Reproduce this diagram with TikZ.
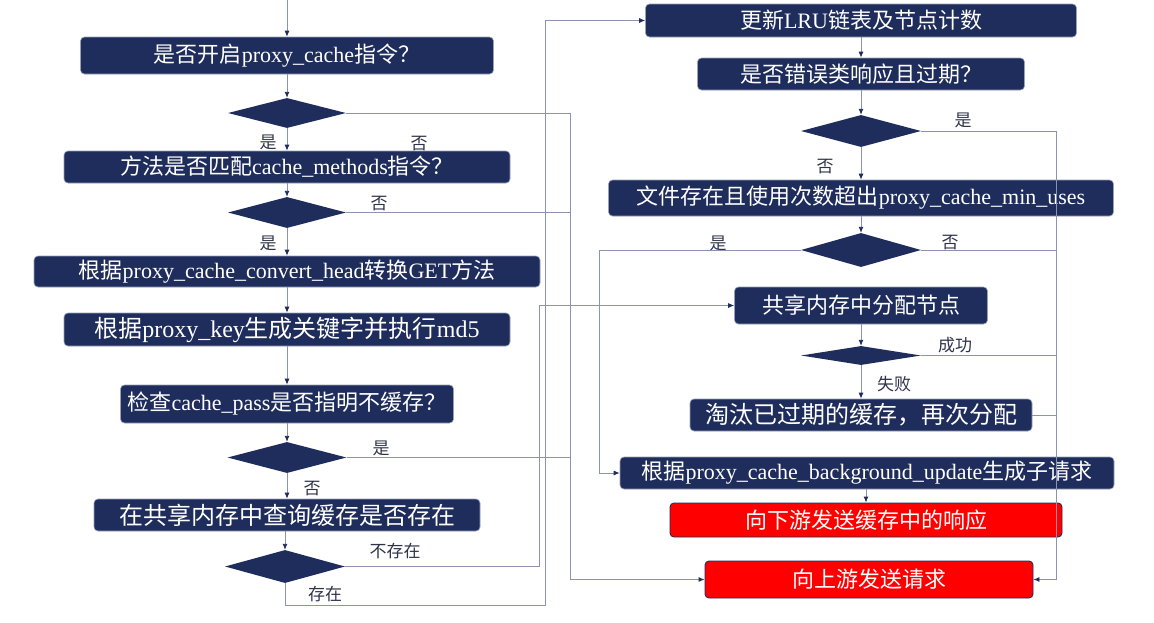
\documentclass[tikz,border=0pt]{standalone}
\usepackage{fontspec}
\setmainfont{Liberation Serif}
\newfontfamily\cjkfont{Noto Sans CJK SC}
\newcommand{\zhs}[1]{{\cjkfont #1}}
\usetikzlibrary{shapes.geometric,arrows.meta}
\definecolor{navy}{HTML}{1F2D5C}
\definecolor{boxedge}{HTML}{9AA0B8}
\definecolor{wire}{HTML}{8C93AE}
\definecolor{lbl}{HTML}{2E3448}
\tikzset{
  box/.style={draw=boxedge, line width=0.6pt, fill=navy, rounded corners=4pt,
    text=white, inner sep=0pt, font=\fontsize{22}{24}\selectfont},
  bigbox/.style={box, font=\fontsize{24}{26}\selectfont},
  alert/.style={box, fill=red, draw=navy, line width=0.9pt},
  dia/.style={diamond, fill=navy, draw=none, inner sep=0pt},
  wire/.style={draw=wire, line width=0.9pt},
  arr/.style={wire, -{Latex[length=6pt,width=5pt,color=navy]}},
  lab/.style={text=lbl, font=\fontsize{17}{19}\selectfont\cjkfont, inner sep=0pt},
}
\begin{document}
\begin{tikzpicture}[x=1pt,y=-1pt]
\useasboundingbox (0,0) rectangle (1154,622);

% left column: request checks
\node[box, minimum width=413pt, minimum height=37pt] (b1) at (287,55.5) {\zhs{是否开启}proxy\_cache\zhs{指令？}};
\node[dia, minimum width=118pt, minimum height=30pt] (d1) at (287,113) {};
\node[box, minimum width=446pt, minimum height=32pt] (b2) at (287,167) {\zhs{方法是否匹配}cache\_methods\zhs{指令？}};
\node[dia, minimum width=118pt, minimum height=31pt] (d2) at (287,212.5) {};
\node[box, minimum width=506pt, minimum height=31pt] (b3) at (287,271.5) {\zhs{根据}proxy\_cache\_convert\_head\zhs{转换}GET\zhs{方法}};
\node[bigbox, minimum width=446pt, minimum height=33pt] (b4) at (287,329.5) {\zhs{根据}proxy\_key\zhs{生成关键字并执行}md5};
\node[box, minimum width=333pt, minimum height=38pt] (b5) at (287,404) {\zhs{检查}cache\_pass\zhs{是否指明不缓存？}};
\node[dia, minimum width=119pt, minimum height=31pt] (d3) at (287,457.5) {};
\node[bigbox, minimum width=386pt, minimum height=32pt] (b6) at (287,515) {\zhs{在共享内存中查询缓存是否存在}};
\node[dia, minimum width=120pt, minimum height=33pt] (d4) at (285,566.5) {};

% right column: cache handling
\node[box, minimum width=431pt, minimum height=33pt] (r1) at (861,20.5) {\zhs{更新}LRU\zhs{链表及节点计数}};
\node[box, minimum width=327pt, minimum height=32pt] (r2) at (861,74) {\zhs{是否错误类响应且过期？}};
\node[dia, minimum width=120pt, minimum height=32pt] (d5) at (861,131) {};
\node[box, minimum width=505pt, minimum height=36pt] (r3) at (861,198) {\zhs{文件存在且使用次数超出}proxy\_cache\_min\_uses};
\node[dia, minimum width=120pt, minimum height=34pt] (d6) at (861,250) {};
\node[box, minimum width=253pt, minimum height=37pt] (r4) at (861,305.5) {\zhs{共享内存中分配节点}};
\node[dia, minimum width=120pt, minimum height=19pt] (d7) at (861,355.5) {};
\node[bigbox, minimum width=342pt, minimum height=32pt] (r5) at (861,415) {\zhs{淘汰已过期的缓存，再次分配}};
\node[box, minimum width=494pt, minimum height=32pt] (r6) at (867,473) {\zhs{根据}proxy\_cache\_background\_update\zhs{生成子请求}};
\node[alert, minimum width=392pt, minimum height=34pt] (r7) at (866,520) {\zhs{向下游发送缓存中的响应}};
\node[alert, minimum width=328pt, minimum height=37pt] (r8) at (869,579.5) {\zhs{向上游发送请求}};

% branch labels
\node[lab] (l1) at (268,142) {是};
\node[lab] (l2) at (419,144) {否};
\node[lab] (l3) at (379,204) {否};
\node[lab] (l4) at (268,243) {是};
\node[lab] (l5) at (381,448) {是};
\node[lab] (l6) at (312,489) {否};
\node[lab] (l7) at (395,551) {不存在};
\node[lab] (l8) at (325,594) {存在};
\node[lab] (l9) at (963,120) {是};
\node[lab] (l10) at (825,167) {否};
\node[lab] (l11) at (718,243) {是};
\node[lab] (l12) at (950,243) {否};
\node[lab] (l13) at (955,345) {成功};
\node[lab] (l14) at (894,384) {失败};

% routing columns
\coordinate (entry) at (287,0);
\coordinate (xa) at (570,0);
\coordinate (xb) at (539,0);
\coordinate (exist) at (545,605);
\coordinate (xd) at (1056,0);
\coordinate (xe) at (599,0);

% main flow, left
\draw[arr] (entry) -- (b1.north);
\draw[arr] (b1.south) -- (d1.north);
\draw[arr] (d1.south) -- (b2.north);
\draw[arr] (b2.south) -- (d2.north);
\draw[arr] (d2.south) -- (b3.north);
\draw[arr] (b3.south) -- (b4.north);
\draw[arr] (b4.south) -- (b5.north);
\draw[arr] (b5.south) -- (d3.north);
\draw[arr] (d3.south) -- (b6.north);
\draw[arr] (b6.south -| d4.north) -- (d4.north);

% main flow, right
\draw[arr] (r1.south) -- (r2.north);
\draw[arr] (r2.south) -- (d5.north);
\draw[arr] (d5.south) -- (r3.north);
\draw[arr] (r3.south) -- (d6.north);
\draw[arr] (r4.south) -- (d7.north);
\draw[arr] (d7.south) -- (r5.north);
\draw[arr] (r6.south -| r7.north) -- (r7.north);

% bypass to upstream
\draw[arr] (d1.east) -- (d1.east -| xa) |- (r8.west);
\draw[wire] (d2.east) -- (d2.east -| xa);
\draw[wire] (d3.east) -- (d3.east -| xa);
\draw[arr] (d5.east) -| (xd |- r8.east) -- (r8.east);
\draw[wire] (d6.east) -- (d6.east -| xd);
\draw[wire] (d7.east) -- (d7.east -| xd);
\draw[wire] (r5.east) -- (r5.east -| xd);

% cache lookup results
\draw[arr] (d4.east) -- (d4.east -| xb) |- (r4.west);
\draw[arr] (d4.south) |- (exist) |- (r1.west);
\draw[arr] (d6.west) -| (xe |- r6.west) -- (r6.west);
\end{tikzpicture}
\end{document}
